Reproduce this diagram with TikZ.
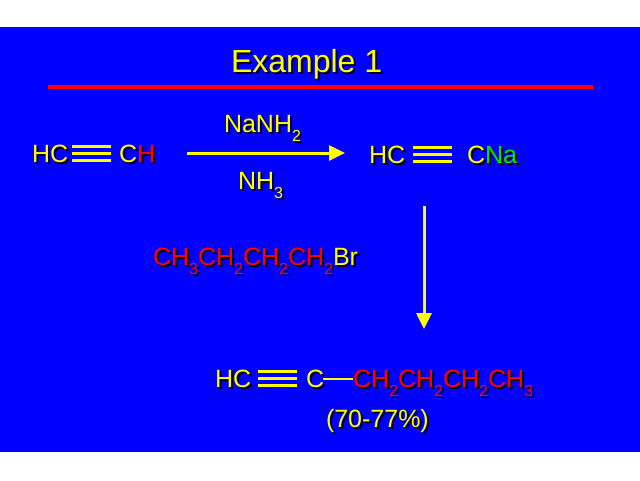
\documentclass[tikz,border=0pt]{standalone}
\usepackage{fontspec}
\setmainfont{Liberation Sans}
\usetikzlibrary{arrows.meta}
\definecolor{bg}{RGB}{0,0,255}
\definecolor{cy}{RGB}{255,255,0}
\definecolor{cr}{RGB}{255,0,0}
\definecolor{cg}{RGB}{0,230,0}
\newcommand\subs[1]{\raisebox{-9pt}{\fontsize{16}{16}\selectfont #1}}
\newcommand\shtext[4][25]{%
  \node[txt,font=\fontsize{#1}{#1}\selectfont,text=black] at ([xshift=2pt,yshift=-2pt]#2) {\colorlet{cy}{black}\colorlet{cr}{black}\colorlet{cg}{black}#4};
  \node[txt,font=\fontsize{#1}{#1}\selectfont,text=cy] (#3) at (#2) {#4};}
\tikzset{
  txt/.style={inner sep=0pt, outer sep=0pt, anchor=base west},
  bond/.style={draw=cy, line width=2.6pt},
  rxn/.style={draw=cy, line width=3pt, -{Triangle[length=16pt,width=15pt]}}
}
\begin{document}
\begin{tikzpicture}[x=1pt,y=-1pt]
\useasboundingbox (0,0) rectangle (640,480);
\fill[white] (0,0) rectangle (640,480);
\fill[bg] (0,27) rectangle (640,452);
% title
\shtext[32]{231,72}{title}{Example 1}
\draw[cr, line width=4pt] (48,87) -- (593,87);
% row 1
\shtext{32,162}{hcA}{HC}
\shtext{119,162}{chA}{C{\color{cr}H}}
\foreach \d in {-7,0,7} \draw[bond] ([xshift=4pt,yshift=\d pt]hcA.east) -- ([xshift=-8pt,yshift=\d pt]chA.west);
\coordinate (a1s) at (187,153);
\coordinate (a1e) at (345,153);
\draw[rxn] (a1s) -- (a1e);
\shtext{224,132}{reagA}{NaNH\subs{2}}
\shtext{238,189}{reagB}{NH\subs{3}}
\shtext{369,163}{hcB}{HC}
\shtext{467,163}{cnaB}{C{\color{cg}Na}}
\foreach \d in {-7,0,7} \draw[bond] ([xshift=8pt,yshift=\d pt]hcB.east) -- ([xshift=-15pt,yshift=\d pt]cnaB.west);
% down arrow
\coordinate (a2s) at (424,206);
\coordinate (a2e) at (424,329);
\draw[rxn] (a2s) -- (a2e);
\shtext{153,265}{reagC}{{\color{cr}CH\subs{3}CH\subs{2}CH\subs{2}CH\subs{2}}Br}
% product
\shtext{215,387}{hcC}{HC}
\shtext{306,387}{cC}{C}
\foreach \d in {-7,0,7} \draw[bond] ([xshift=7pt,yshift=\d pt]hcC.east) -- ([xshift=-9pt,yshift=\d pt]cC.west);
\shtext{353,387}{chain}{{\color{cr}CH\subs{2}CH\subs{2}CH\subs{2}CH\subs{3}}}
\draw[cy, line width=2pt] ([xshift=-1pt,yshift=-1pt]cC.east) -- ([yshift=-1pt]cC.east -| chain.west);
\shtext{326,427}{yield}{(70-77\%)}
\end{tikzpicture}
\end{document}
